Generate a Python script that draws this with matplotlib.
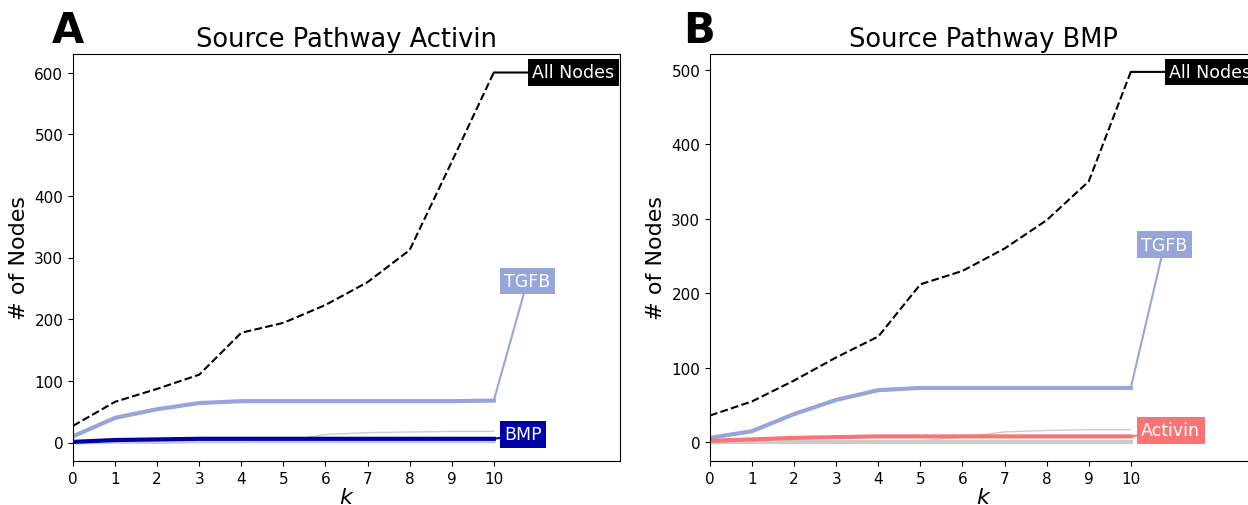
import matplotlib
matplotlib.use("Agg")
import matplotlib.pyplot as plt

k = list(range(11))

# Panel A: source pathway Activin
a_all = [27, 66, 87, 110, 178, 194, 223, 260, 312, 455, 600]
a_tgfb = [10, 40, 54, 64, 67, 67, 67, 67, 67, 67, 68]
a_bmp = [1, 4, 5, 6, 6, 6, 6, 6, 6, 6, 6]
a_gray_thin = [0, 0, 0, 0, 0, 2, 13, 16, 17, 18, 18]
a_gray_thick = [0, 1, 1, 2, 2, 2, 2, 2, 2, 2, 2]

# Panel B: source pathway BMP
b_all = [36, 55, 83, 114, 142, 212, 230, 260, 298, 350, 497]
b_tgfb = [6, 15, 38, 57, 70, 73, 73, 73, 73, 73, 73]
b_act = [2, 4, 6, 7, 8, 8, 8, 8, 8, 8, 8]
b_gray_thin = [0, 0, 0, 0, 0, 2, 7, 14, 16, 17, 17]
b_gray_thick = [0, 0, 0, 0, 0, 0, 0, 0, 0, 0, 0]

C_TGFB = '#97a6d9'
C_BMP = '#0000aa'
C_ACT = '#f77575'
C_GRAY = '#cccccc'

fig = plt.figure(figsize=(12.48, 5.06), dpi=100)
axA = fig.add_axes([73/1248, 44/506, 547/1248, 407/506])
axB = fig.add_axes([710/1248, 44/506, 547/1248, 407/506])


def label(ax, x, y, text, tx, ty, color):
    ax.annotate(text, xy=(x, y), xytext=(tx, ty), textcoords='data',
                ha='left', va='center', color='white', fontsize=12.5,
                bbox=dict(boxstyle='square,pad=0.25', fc=color, ec='none'),
                arrowprops=dict(arrowstyle='-', color=color, lw=1.5,
                                shrinkA=0, shrinkB=0),
                annotation_clip=False)


def panel(ax, allv, tgfb, other, other_col, other_name, gthin, gthick,
          ylim, title, all_y, tgfb_y, other_y):
    ax.plot(k, gthick, color=C_GRAY, lw=3, zorder=1)
    ax.plot(k, gthin, color=C_GRAY, lw=1, zorder=1)
    ax.plot(k, allv, color='black', ls='--', lw=1.5, zorder=3)
    ax.plot(k, tgfb, color=C_TGFB, lw=3, zorder=2)
    ax.plot(k, other, color=other_col, lw=3, zorder=2)
    ax.set_xlim(0, 13)
    ax.set_ylim(*ylim)
    ax.set_xticks(k)
    ax.tick_params(labelsize=11)
    ax.set_title(title, fontsize=18.5)
    ax.set_ylabel('# of Nodes', fontsize=16)
    ax.set_xlabel('$k$', fontsize=16, labelpad=1)
    label(ax, 10, allv[-1], 'All Nodes', 10.92, all_y, 'black')
    label(ax, 10, tgfb[-1], 'TGFB', 10.25, tgfb_y, C_TGFB)
    label(ax, 10, other[-1], other_name, 10.25, other_y, other_col)


panel(axA, a_all, a_tgfb, a_bmp, C_BMP, 'BMP', a_gray_thin, a_gray_thick,
      (-30, 630), 'Source Pathway Activin', 600, 262, 13)
panel(axB, b_all, b_tgfb, b_act, C_ACT, 'Activin', b_gray_thin, b_gray_thick,
      (-25, 521), 'Source Pathway BMP', 497, 265, 16)

fig.text(52/1248, 1 - 43/506, 'A', fontsize=30, fontweight='bold')
fig.text(683/1248, 1 - 43/506, 'B', fontsize=30, fontweight='bold')

fig.savefig('out.png', dpi=100)
